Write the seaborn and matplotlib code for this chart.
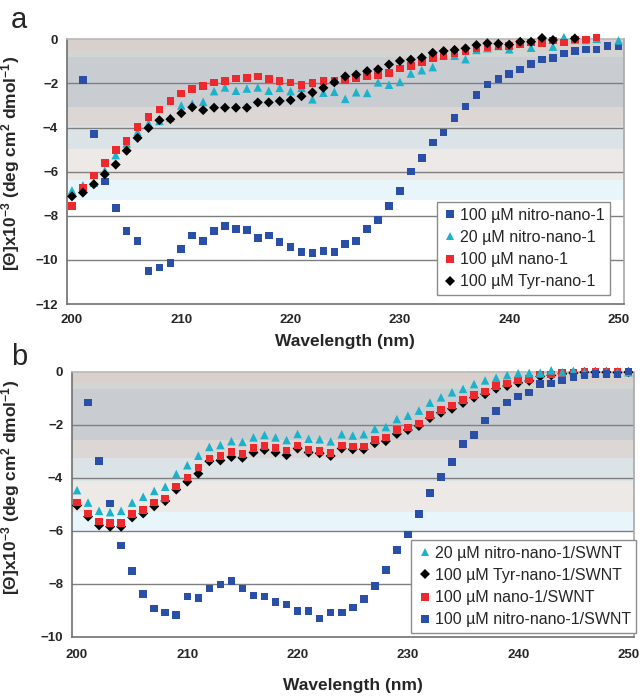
import numpy as np
import pandas as pd
import matplotlib
matplotlib.use('Agg')
import matplotlib.pyplot as plt
import seaborn as sns
from matplotlib.patches import Rectangle

sns.set_style('white')
plt.rcParams['font.family'] = ['Liberation Sans', 'DejaVu Sans']
plt.rcParams['mathtext.default'] = 'regular'

nan = np.nan
wavelength = list(range(200, 251))

# ---- panel a: free peptides ----
nitro100_a = [nan, -1.85, -4.3, -6.45, -7.65, -8.7, -9.15, -10.5, -10.35, -10.15,
              -9.5, -8.9, -9.15, -8.7, -8.47, -8.6, -8.65, -9.0, -8.9, -9.2,
              -9.42, -9.65, -9.7, -9.6, -9.65, -9.27, -9.15, -8.6, -8.2, -7.55,
              -6.87, -6.0, -5.38, -4.68, -4.23, -3.56, -3.05, -2.52, -2.05, -1.8,
              -1.57, -1.36, -1.13, -0.92, -0.86, -0.64, -0.52, -0.47, -0.46, -0.3,
              -0.33]
nitro20_a = [-6.85, -6.62, -6.5, -5.95, -5.25, -4.72, -4.2, -3.8, -3.7, -3.55,
             -3.0, -2.92, -2.83, -2.35, -2.18, -2.33, -2.23, -2.18, -2.33, -2.2,
             -2.35, -2.2, -2.72, -2.42, -2.38, -2.7, -2.4, -2.43, -1.95, -2.06,
             -1.93, -1.55, -1.4, -1.26, -0.72, -0.74, -0.9, -0.48, -0.4, -0.3,
             -0.45, -0.1, -0.38, -0.15, -0.33, 0.1, -0.02, -0.03, 0.02, nan,
             -0.05]
nano100_a = [-7.55, -6.72, -6.17, -5.6, -5.02, -4.6, -3.97, -3.52, -3.18, -2.79,
             -2.45, -2.25, -2.12, -1.95, -1.89, -1.77, -1.74, -1.68, -1.8, -1.9,
             -1.96, -2.06, -1.97, -1.88, -1.9, -1.85, -1.77, -1.67, -1.62, -1.52,
             -1.32, -1.22, -1.02, -0.85, -0.76, -0.64, -0.52, -0.42, -0.36, -0.3,
             -0.3, -0.21, -0.15, -0.18, -0.06, -0.14, 0.0, 0.0, 0.08, nan,
             nan]
tyr100_a = [-7.12, -6.95, -6.57, -6.12, -5.68, -5.05, -4.47, -4.02, -3.67, -3.62,
            -3.35, -3.08, -3.21, -3.1, -3.1, -3.1, -3.1, -2.86, -2.86, -2.8,
            -2.76, -2.58, -2.41, -2.2, -1.95, -1.68, -1.6, -1.44, -1.36, -1.14,
            -0.98, -0.92, -0.83, -0.61, -0.53, -0.48, -0.41, -0.26, -0.18, -0.2,
            -0.24, -0.11, -0.11, 0.06, -0.03, nan, 0.04, nan, nan, nan,
            nan]

# ---- panel b: peptide/SWNT ----
nitro100_b = [nan, -1.17, -3.37, -4.98, -6.56, -7.52, -8.4, -8.94, -9.09, -9.18,
              -8.49, -8.53, -8.18, -8.03, -7.89, -8.18, -8.44, -8.49, -8.68, -8.78,
              -9.03, -9.03, -9.32, -9.09, -9.09, -8.9, -8.58, -8.08, -7.48, -6.74,
              -6.15, -5.37, -4.58, -3.97, -3.4, -2.74, -2.38, -1.85, -1.48, -1.16,
              -0.94, -0.79, -0.47, -0.44, -0.34, -0.21, -0.15, -0.08, -0.08, -0.1,
              0.0]
nitro20_b = [-4.47, -4.94, -5.25, -5.3, -5.25, -4.94, -4.72, -4.5, -4.34, -3.86,
             -3.53, -3.17, -2.84, -2.77, -2.62, -2.65, -2.48, -2.39, -2.48, -2.58,
             -2.35, -2.53, -2.55, -2.63, -2.36, -2.41, -2.36, -2.16, -2.09, -1.79,
             -1.66, -1.47, -1.17, -0.97, -0.78, -0.65, -0.47, -0.33, -0.23, -0.13,
             -0.06, -0.05, -0.04, 0.05, -0.02, 0.03, -0.02, -0.03, -0.02, -0.03,
             -0.02]
tyr100_b = [-5.05, -5.47, -5.8, -5.85, -5.85, -5.5, -5.35, -5.08, -4.88, -4.45,
            -4.15, -3.85, -3.38, -3.35, -3.22, -3.25, -3.05, -2.95, -3.05, -3.15,
            -2.9, -3.05, -3.08, -3.18, -2.9, -2.93, -2.93, -2.7, -2.62, -2.35,
            -2.2, -2.05, -1.75, -1.55, -1.4, -1.18, -0.98, -0.85, -0.64, -0.54,
            -0.42, -0.35, -0.18, -0.14, -0.08, -0.05, -0.02, -0.02, -0.02, -0.03,
            -0.02]
nano100_b = [-4.94, -5.35, -5.66, -5.72, -5.72, -5.37, -5.22, -4.94, -4.78, -4.34,
             -4.0, -3.61, -3.27, -3.18, -3.03, -3.1, -2.89, -2.8, -2.89, -2.98,
             -2.78, -2.96, -2.99, -3.06, -2.78, -2.83, -2.83, -2.58, -2.49, -2.2,
             -2.1, -1.95, -1.64, -1.45, -1.28, -1.07, -0.88, -0.75, -0.54, -0.44,
             -0.34, -0.28, -0.11, -0.1, -0.06, -0.03, 0.0, 0.0, 0.0, -0.02,
             -0.01]

BLUE, CYAN, RED, BLACK = '#2a4fa6', '#1bb3cc', '#ec2a2e', '#000000'
MARKER_SIZE = {'s': 30, '^': 38, 'D': 26}

# excel-like plot-area gradient bands (fraction of axes height from top)
band_edges = [0, 0.044, 0.066, 0.256, 0.327, 0.413, 0.53, 0.606]
band_colors = ['#d7d0cd', '#d2d6d3', '#c9cdd2', '#dcd6d4', '#dce3e7', '#ece9e6', '#e8f5fb']


def style_axes(ax, ymin, xlab_y, tick_pad):
    for top, bot, c in zip(band_edges[:-1], band_edges[1:], band_colors):
        ax.add_patch(Rectangle((0, 1 - bot), 1, bot - top, transform=ax.transAxes,
                               facecolor=c, lw=0, zorder=0))
    for yv in range(ymin + 2, 0, 2):
        ax.axhline(yv, color='#7f7f7f', lw=1, zorder=1)
    ax.set_xlim(199.5, 250.5)
    ax.set_ylim(ymin, 0)
    ax.set_xticks(range(200, 251, 10))
    ax.set_xticks(np.arange(199.5, 251, 3), minor=True)
    ax.set_yticks(range(ymin, 1, 2))
    ax.tick_params(axis='x', which='major', length=0, pad=tick_pad, labelsize=9.5)
    ax.tick_params(axis='x', which='minor', length=4, width=1, color='#808080', direction='out')
    ax.tick_params(axis='y', length=4, width=1, color='#808080', direction='out', pad=2, labelsize=9.5)
    for lab in ax.get_xticklabels() + ax.get_yticklabels():
        lab.set_fontweight('bold')
    ax.spines['left'].set_color('#707070')
    ax.spines['bottom'].set_color('#707070')
    ax.spines['top'].set_color('#b8b8b8')
    ax.spines['right'].set_color('#a8a8a8')
    for sp in ax.spines.values():
        sp.set_linewidth(1.2)
    ax.set_xlabel('Wavelength (nm)', fontsize=12.5, fontweight='bold')
    ax.xaxis.set_label_coords(0.5, xlab_y)
    ax.set_ylabel('[Θ]x10$^{-3}$ (deg cm$^{2}$ dmol$^{-1}$)', fontsize=12.5, fontweight='bold')


def draw(ax, series, draw_order, legend_order, colors, markers):
    frames = [pd.DataFrame({'wl': wavelength, 'theta': series[k], 'sample': k}) for k in draw_order]
    df = pd.concat(frames, ignore_index=True)
    sizes = {k: MARKER_SIZE[m] for k, m in markers.items()}
    sns.scatterplot(data=df, x='wl', y='theta', hue='sample', style='sample', size='sample',
                    hue_order=legend_order, style_order=legend_order, size_order=legend_order,
                    palette=colors, markers=markers, sizes=sizes, linewidth=0,
                    clip_on=False, zorder=3, ax=ax)


fig = plt.figure(figsize=(6.42, 6.96), dpi=100)
ax_a = fig.add_axes([0.1036, 0.5632, 0.8684, 0.3803])
ax_b = fig.add_axes([0.1114, 0.0852, 0.8761, 0.3808])

# panel a
la = ['100 µM nitro-nano-1', '20 µM nitro-nano-1', '100 µM nano-1', '100 µM Tyr-nano-1']
series_a = dict(zip(la, [nitro100_a, nitro20_a, nano100_a, tyr100_a]))
draw(ax_a, series_a, la, la,
     dict(zip(la, [BLUE, CYAN, RED, BLACK])), dict(zip(la, ['s', '^', 's', 'D'])))
style_axes(ax_a, -12, -0.113, 7.5)
ax_a.yaxis.set_label_coords(-0.08, 0.53)

# panel b
lb = ['20 µM nitro-nano-1/SWNT', '100 µM Tyr-nano-1/SWNT', '100 µM nano-1/SWNT',
      '100 µM nitro-nano-1/SWNT']
series_b = dict(zip(lb, [nitro20_b, tyr100_b, nano100_b, nitro100_b]))
draw(ax_b, series_b, [lb[1], lb[2], lb[0], lb[3]], lb,
     dict(zip(lb, [CYAN, BLACK, RED, BLUE])), dict(zip(lb, ['^', 'D', 's', 's'])))
style_axes(ax_b, -10, -0.155, 9)
ax_b.yaxis.set_label_coords(-0.088, 0.565)

for ax, anchor in [(ax_a, (0.975, 0.034)), (ax_b, (1.004, 0.014))]:
    sns.move_legend(ax, 'lower right', bbox_to_anchor=anchor, borderaxespad=0,
                    title=None, frameon=True, fontsize=11.5, fancybox=False,
                    framealpha=1, handletextpad=0.1, handlelength=1.0,
                    labelspacing=0.45, borderpad=0.35)
    leg = ax.get_legend()
    leg.get_frame().set_edgecolor('#8c8c8c')
    leg.get_frame().set_linewidth(1.0)
    leg.set_zorder(5)

fig.text(0.03, 0.971, 'a', fontsize=21, ha='center', va='center')
fig.text(0.03, 0.487, 'b', fontsize=21, ha='center', va='center')

fig.savefig('out.png', dpi=100)
